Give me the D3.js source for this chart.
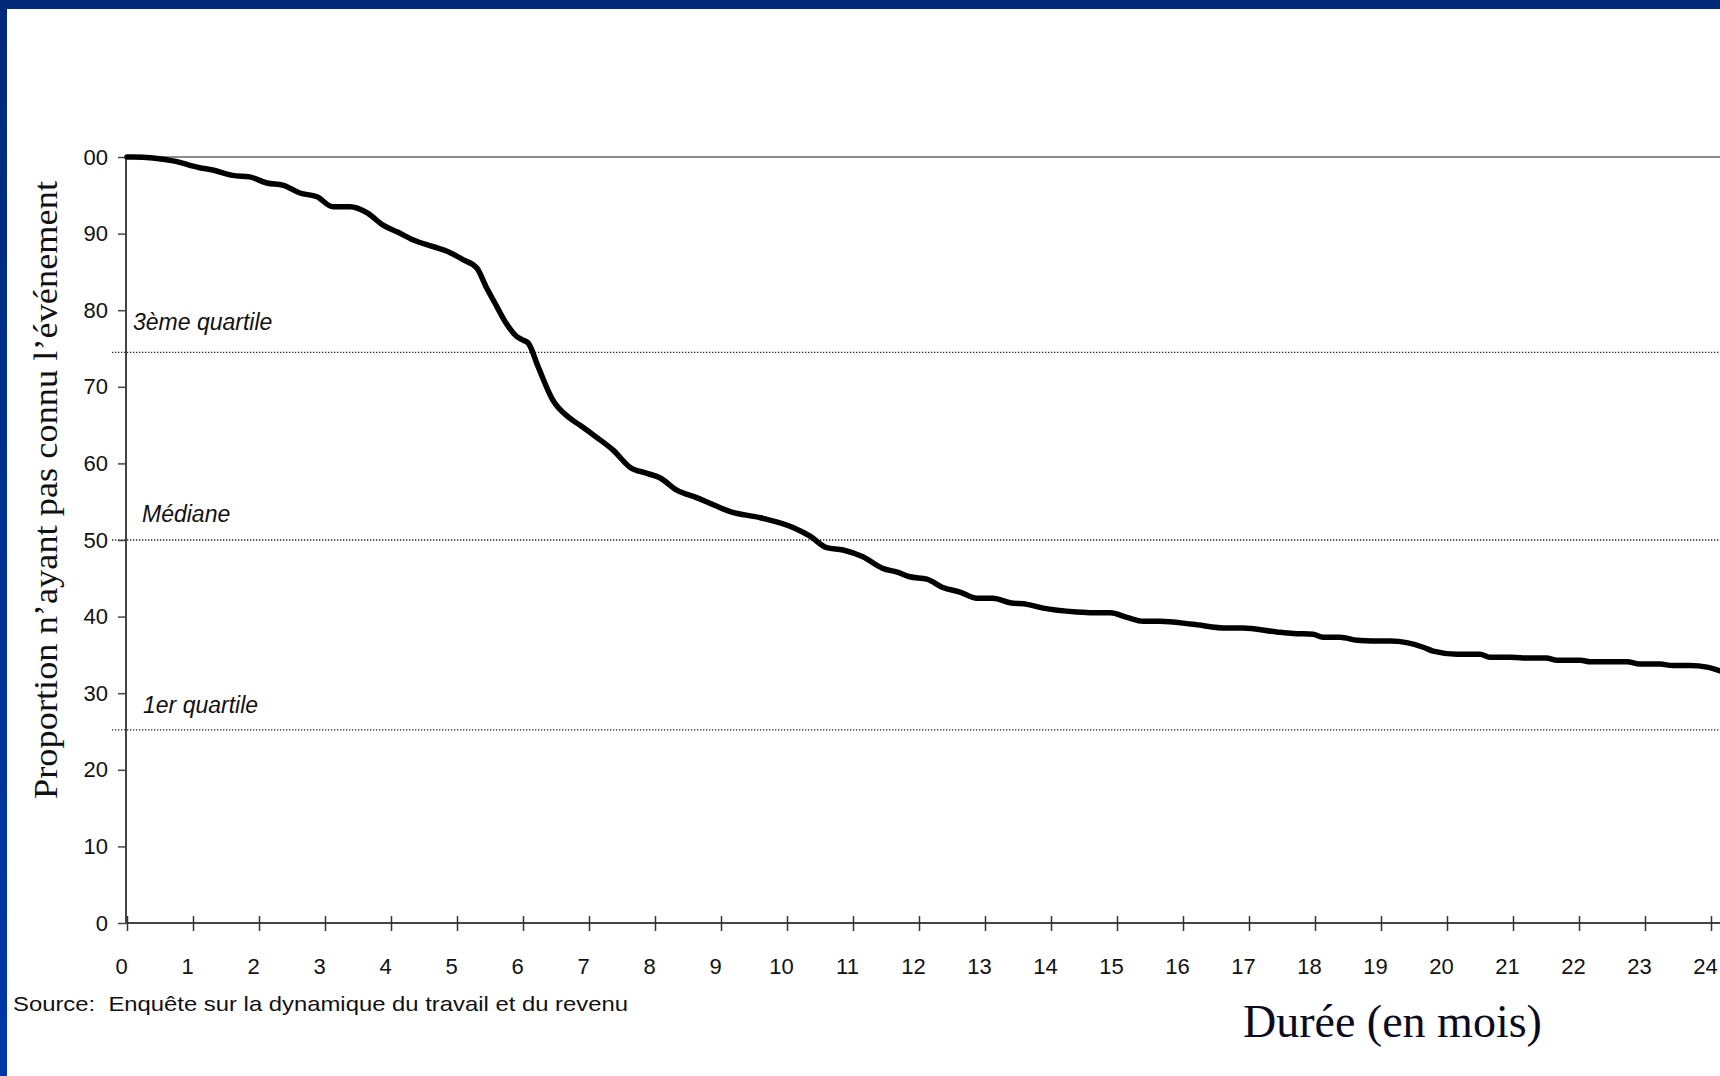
<!DOCTYPE html>
<html>
<head>
<meta charset="utf-8">
<script src="https://cdn.jsdelivr.net/npm/d3@7"></script>
<style>
  body { margin: 0; background: #fff; }
  svg { display: block; }
  .pre { white-space: pre; }
</style>
</head>
<body>
<svg id="chart"></svg>
<script>
const svg_width = 1720;
const svg_height = 1076;

// data
const months = [0, 0.09, 0.7, 1.1, 1.3, 1.6, 1.86, 2.12, 2.37, 2.62, 2.88, 3.12, 3.38, 3.64, 3.88, 4.1, 4.33, 4.64, 4.85, 5.09, 5.3, 5.45, 5.57, 5.73, 5.9, 6.0, 6.08, 6.23, 6.45, 6.71, 6.86, 7.1, 7.37, 7.62, 7.88, 8.08, 8.33, 8.64, 8.83, 9.14, 9.6, 10.1, 10.35, 10.6, 10.85, 11.15, 11.45, 11.67, 11.86, 12.12, 12.36, 12.62, 12.88, 13.12, 13.38, 13.64, 13.88, 14.39, 14.64, 14.9, 15.15, 15.4, 15.65, 16.15, 16.67, 16.9, 17.42, 17.67, 17.97, 18.12, 18.38, 18.64, 18.88, 19.14, 19.39, 19.64, 19.79, 20.15, 20.5, 20.65, 20.95, 21.15, 21.5, 21.67, 22.02, 22.17, 22.73, 22.92, 23.23, 23.42, 23.68, 23.94, 24.14];
const values = [100, 100, 99.5, 98.6, 98.3, 97.6, 97.4, 96.6, 96.3, 95.3, 94.8, 93.5, 93.5, 92.7, 91.1, 90.2, 89.2, 88.3, 87.7, 86.6, 85.5, 82.9, 81.0, 78.5, 76.6, 76.1, 75.7, 72.6, 68.3, 65.9, 65.0, 63.5, 61.7, 59.5, 58.7, 58.1, 56.5, 55.5, 54.8, 53.7, 52.9, 51.6, 50.5, 49.0, 48.7, 47.8, 46.3, 45.8, 45.2, 44.9, 43.8, 43.2, 42.4, 42.4, 41.8, 41.6, 41.1, 40.6, 40.5, 40.5, 39.9, 39.4, 39.4, 39.0, 38.5, 38.5, 38.0, 37.8, 37.7, 37.3, 37.3, 36.9, 36.8, 36.8, 36.6, 36.0, 35.5, 35.1, 35.1, 34.7, 34.7, 34.6, 34.6, 34.3, 34.3, 34.1, 34.1, 33.8, 33.8, 33.6, 33.6, 33.4, 32.9];

const xTicks = d3.range(0, 25);
const yTicks = [0, 10, 20, 30, 40, 50, 60, 70, 80, 90, 100];
const yTickLabels = ['0', '10', '20', '30', '40', '50', '60', '70', '80', '90', '00'];

const refValues = [74.5, 50, 25.2];
const refLabels = ['3ème quartile', 'Médiane', '1er quartile'];

const svg = d3.select('#chart')
	.attr('width', svg_width)
	.attr('height', svg_height);

// blue frame of the slide
const defs = svg.append('defs');
const grad = defs.append('linearGradient').attr('id', 'side').attr('x1', 0).attr('y1', 0).attr('x2', 0).attr('y2', 1);
grad.append('stop').attr('offset', '0%').attr('stop-color', '#002a78');
grad.append('stop').attr('offset', '100%').attr('stop-color', '#0038a8');
svg.append('rect').attr('x', 0).attr('y', 0).attr('width', 7).attr('height', svg_height).attr('fill', 'url(#side)');
svg.append('rect').attr('x', 0).attr('y', 0).attr('width', svg_width).attr('height', 9).attr('fill', '#002a78');

const x = d3.scaleLinear().domain([0, 24]).range([127, 1711]);
const y = d3.scaleLinear().domain([0, 100]).range([923, 157]);

// top border of the plot area
svg.append('line')
	.attr('x1', 126).attr('x2', svg_width)
	.attr('y1', y(100)).attr('y2', y(100))
	.attr('stroke', '#8a8a8a').attr('stroke-width', 2);

// reference lines (quartiles, median)
refValues.forEach((v, i) => {
	svg.append('line')
		.attr('x1', 112).attr('x2', svg_width)
		.attr('y1', y(v)).attr('y2', y(v))
		.attr('stroke', '#222').attr('stroke-width', 1.3)
		.attr('stroke-dasharray', '1.3,1.7');
});

const labelPos = [[133, 330], [142, 522], [143, 713]];
refLabels.forEach((t, i) => {
	svg.append('text')
		.attr('x', labelPos[i][0]).attr('y', labelPos[i][1])
		.attr('font-family', 'Liberation Sans, Arial, sans-serif')
		.attr('font-style', 'italic')
		.attr('font-size', '23px')
		.attr('fill', '#111')
		.text(t);
});

// y axis
const yAxis = svg.append('g')
	.attr('transform', 'translate(126,0)')
	.call(d3.axisLeft(y).tickValues(yTicks).tickSize(8).tickPadding(10)
		.tickFormat((d, i) => yTickLabels[i]));
yAxis.select('.domain').attr('stroke', '#444').attr('stroke-width', 2).attr('d', `M0,${y(100)}V${y(0)}`);
yAxis.selectAll('.tick line').attr('stroke', '#444').attr('stroke-width', 1.5);
yAxis.selectAll('.tick text')
	.attr('font-family', 'Liberation Sans, Arial, sans-serif')
	.attr('font-size', '22px')
	.attr('fill', '#111');

// x axis
const xAxis = svg.append('g')
	.attr('transform', `translate(0,${y(0)})`)
	.call(d3.axisBottom(x).tickValues(xTicks).tickSize(8).tickPadding(27).tickFormat(d3.format('d')));
xAxis.select('.domain').attr('stroke', '#444').attr('stroke-width', 2).attr('d', `M126,0H${svg_width}`);
xAxis.selectAll('.tick line').attr('stroke', '#333').attr('stroke-width', 1.5).attr('y1', -7);
xAxis.selectAll('.tick text')
	.attr('font-family', 'Liberation Sans, Arial, sans-serif')
	.attr('font-size', '22px')
	.attr('fill', '#111')
	.attr('dx', -6);

// survival curve
const line = d3.line()
	.x((d, i) => x(months[i]))
	.y(d => y(d))
	.curve(d3.curveMonotoneX);

svg.append('path')
	.datum(values)
	.attr('d', line)
	.attr('fill', 'none')
	.attr('stroke', '#000')
	.attr('stroke-width', 5.5)
	.attr('stroke-linejoin', 'round')
	.attr('stroke-linecap', 'round');

// titles
svg.append('text')
	.attr('transform', 'translate(57,490) rotate(-90)')
	.attr('text-anchor', 'middle')
	.attr('font-family', 'Liberation Serif, Times New Roman, serif')
	.attr('font-size', '34px')
	.attr('fill', '#111')
	.attr('textLength', 618)
	.attr('lengthAdjust', 'spacingAndGlyphs')
	.text('Proportion n’ayant pas connu l’événement');

svg.append('text')
	.attr('x', 1243).attr('y', 1037)
	.attr('font-family', 'Liberation Serif, Times New Roman, serif')
	.attr('font-size', '46px')
	.attr('fill', '#0b0b1e')
	.text('Durée (en mois)');

svg.append('text')
	.attr('class', 'pre')
	.attr('x', 13).attr('y', 1011)
	.attr('font-family', 'Liberation Sans, Arial, sans-serif')
	.attr('font-size', '21px')
	.attr('fill', '#111')
	.attr('textLength', 615)
	.attr('lengthAdjust', 'spacingAndGlyphs')
	.text('Source:  Enquête sur la dynamique du travail et du revenu');
</script>
</body>
</html>
